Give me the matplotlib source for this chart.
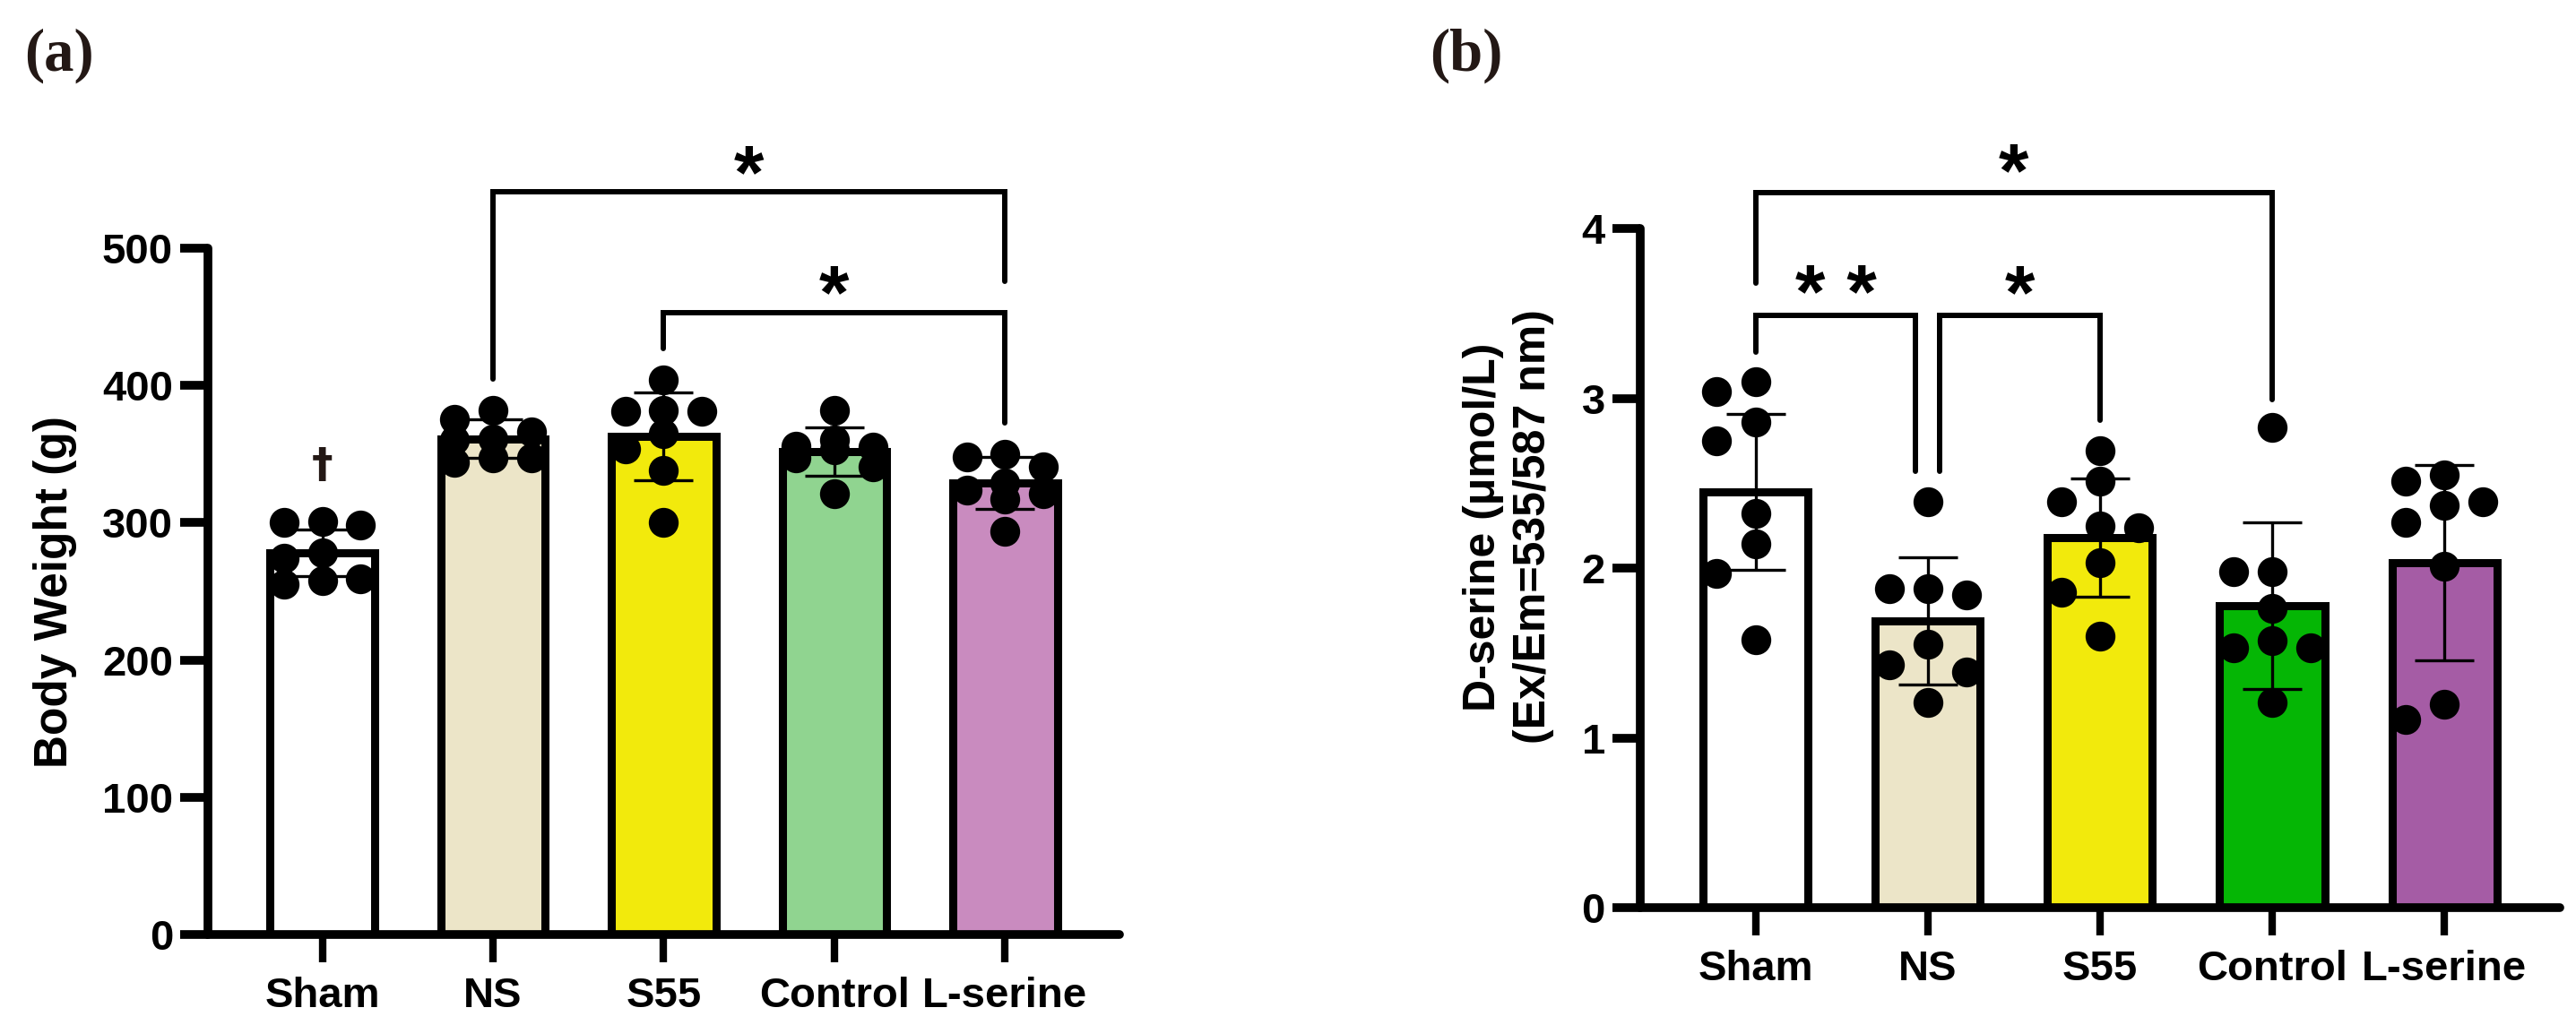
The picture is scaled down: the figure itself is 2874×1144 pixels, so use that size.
import numpy as np
import matplotlib
matplotlib.use("Agg")
import matplotlib.pyplot as plt

groups = ["Sham", "NS", "S55", "Control", "L-serine"]

# (a) body weight (g), one value per animal
bw_sham = [300, 301, 298, 278, 274, 255, 258, 259]
bw_ns = [382, 375, 366, 361, 360, 347, 347, 344]
bw_s55 = [404, 382, 381, 381, 365, 354, 338, 300]
bw_control = [382, 360, 353, 356, 355, 347, 341, 321]
bw_lserine = [348, 350, 341, 329, 324, 321, 317, 294]
bw_mean = [278, 361, 363, 352, 329]
bw_sd = [17, 14, 32, 17.5, 19]

# (b) D-serine (umol/L)
ds_sham = [3.10, 3.04, 2.86, 2.75, 2.32, 2.14, 1.97, 1.58]
ds_ns = [2.39, 1.84, 1.88, 1.88, 1.55, 1.39, 1.43, 1.21]
ds_s55 = [2.69, 2.51, 2.39, 2.24, 2.25, 2.03, 1.86, 1.60]
ds_control = [2.83, 1.98, 1.98, 1.76, 1.57, 1.53, 1.53, 1.21]
ds_lserine = [2.55, 2.51, 2.37, 2.39, 2.27, 2.01, 1.20, 1.11]
ds_mean = [2.45, 1.69, 2.18, 1.78, 2.03]
ds_sd = [0.46, 0.375, 0.35, 0.49, 0.575]

colors_a = ["white", "#ECE5C8", "#F2EA0C", "#90D490", "#C98BBF"]
colors_b = ["white", "#ECE5C8", "#F2EA0C", "#05B605", "#A55CA5"]

# brackets: left group, right group, bar height, left leg end, right leg end, label, label height
sig_a = [(1, 4, 541, 405, 476, "*", 567),
         (2, 4, 453, 427, 373, "*", 480)]
sig_b = [(0, 3, 4.21, 3.68, 2.99, "*", 4.44),
         (0, 0.93, 3.49, 3.27, 2.57, "* *", 3.72),
         (1.07, 2, 3.49, 2.57, 2.87, "*", 3.72)]

plt.rcParams["font.family"] = ["Liberation Sans", "DejaVu Sans"]
plt.rcParams["font.weight"] = "bold"

BAR_W = 0.61
DOT = 24  # marker diameter, points


def swarm_offsets(vals, px_per_unit, diam_px=33, step=0.225):
    # simple prism-like spread in three columns
    vals = np.asarray(vals, dtype=float)
    placed = {-1: [], 0: [], 1: []}
    offs = np.zeros(len(vals))
    for i in np.argsort(-vals, kind="stable"):
        v = vals[i] * px_per_unit
        best, best_gap = 0, -1
        for k in (0, -1, 1):
            gap = min([abs(v - p) for p in placed[k]], default=1e9)
            if gap >= diam_px:
                best = k
                break
            if gap > best_gap:
                best, best_gap = k, gap
        placed[best].append(v)
        offs[i] = best * step
    return offs


def draw_panel(ax, sets, means, sds, colors, ymax, yticks, px_per_unit, sig):
    x = np.arange(len(groups))
    ax.bar(x, means, width=BAR_W, color=colors, edgecolor="black",
           linewidth=6.5, zorder=2)
    ax.errorbar(x, means, yerr=sds, fmt="none", ecolor="black",
                elinewidth=2.4, capsize=24, capthick=2.4, zorder=3)
    for xi, vals in zip(x, sets):
        offs = swarm_offsets(vals, px_per_unit)
        ax.scatter(xi + offs, vals, s=DOT ** 2, color="black", linewidths=0,
                   zorder=4, clip_on=False)

    for x1, x2, h, l1, l2, lab, ty in sig:
        ax.plot([x1, x1, x2, x2], [l1, h, h, l2], color="black", lw=4.3,
                clip_on=False, solid_joinstyle="miter", solid_capstyle="round",
                zorder=5)
        fs = 62
        ax.annotate(lab, xy=((x1 + x2) / 2, ty), xytext=(0, -0.55 * fs),
                    textcoords="offset points", ha="center", va="baseline",
                    fontsize=fs, fontweight="bold", annotation_clip=False)

    ax.set_xlim(-0.67, 4.67)
    ax.set_ylim(0, ymax)
    ax.set_yticks(yticks)
    ax.set_xticks(x)
    ax.set_xticklabels(groups)
    for s in ("top", "right"):
        ax.spines[s].set_visible(False)
    for s in ("left", "bottom"):
        ax.spines[s].set_linewidth(7)
        ax.spines[s].set_capstyle("round")
    ax.tick_params(axis="y", length=22, width=7, labelsize=34, pad=6)
    ax.tick_params(axis="x", length=22, width=6, labelsize=34, pad=12)


fig = plt.figure(figsize=(28.74, 11.44), dpi=100)

ax_a = fig.add_axes([0.0807, 0.0883, 0.3539, 0.6696])
draw_panel(ax_a, [bw_sham, bw_ns, bw_s55, bw_control, bw_lserine],
           bw_mean, bw_sd, colors_a, 500, [0, 100, 200, 300, 400, 500],
           1.532, sig_a)
ax_a.text(0, 341, "\u2020", ha="center", va="center", fontsize=34,
          color="#231815", fontweight="bold", family="DejaVu Sans")

ax_b = fig.add_axes([0.6367, 0.1145, 0.357, 0.6626])
draw_panel(ax_b, [ds_sham, ds_ns, ds_s55, ds_control, ds_lserine],
           ds_mean, ds_sd, colors_b, 4, [0, 1, 2, 3, 4], 190, sig_b)

fig.text(62 / 2874, 0.423, "Body Weight (g)", rotation=90, ha="center",
         va="center", fontsize=37, fontweight="bold")
fig.text(1683 / 2874, 0.486, "D-serine (\u03bcmol/L)\n(Ex/Em=535/587 nm)",
         rotation=90, ha="center", va="center", fontsize=36,
         fontweight="bold", linespacing=1.25, multialignment="center")

for xf, lab in ((0.0095, "(a)"), (0.555, "(b)")):
    fig.text(xf, 0.946, lab, ha="left", va="center", fontsize=48,
             family=["Liberation Serif", "DejaVu Serif"], fontweight="bold",
             color="#231815")

fig.savefig("out.png", dpi=100, facecolor="white")
